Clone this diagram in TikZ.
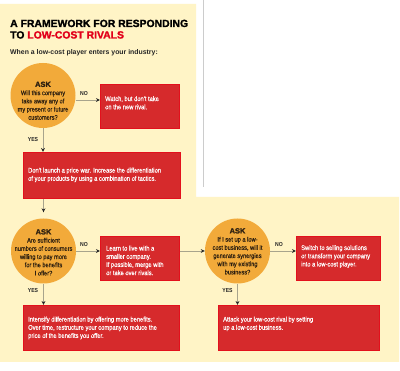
\documentclass[tikz,border=0pt]{standalone}
\usepackage{fontspec}
\setmainfont{Liberation Sans}
\newfontfamily\heavyfont[FakeBold=1.6]{Liberation Sans Bold}
\newfontfamily\condfont[FakeStretch=0.86,FakeBold=0.35]{Liberation Sans}
\newfontfamily\condbold[FakeStretch=0.88]{Liberation Sans Bold}
\newfontfamily\subfont{Liberation Sans Bold}
\usetikzlibrary{arrows.meta,calc}
\definecolor{cream}{HTML}{FFF4C6}
\definecolor{boxred}{HTML}{D62A2C}
\definecolor{boxedge}{HTML}{E3101C}
\definecolor{askorange}{HTML}{F2AA3A}
\definecolor{titlered}{HTML}{E2001A}
\definecolor{linegray}{HTML}{A8A48C}
\definecolor{asktext}{HTML}{2E2010}
\definecolor{sepgray}{HTML}{CCCCCC}
\begin{document}
\begin{tikzpicture}[x=1pt,y=-1pt,
  box/.style={rectangle, draw=boxedge, fill=boxred, line width=0.8pt, inner sep=0pt, anchor=north west},
  btext/.style={font=\condfont\fontsize{6.7}{8.2}\selectfont, text=white, align=left, inner sep=0pt, anchor=north west},
  ask/.style={circle, fill=askorange, minimum size=65pt, inner sep=0pt},
  asklines/.style={font=\condfont\fontsize{6.6}{8.2}\selectfont, text=asktext, align=center, inner sep=0pt, anchor=north},
  lab/.style={font=\condbold\fontsize{5.8}{6}\selectfont, text=black!85, inner sep=0pt},
  titlefont/.style={font=\heavyfont\fontsize{10.4}{12}\selectfont, inner sep=0pt, anchor=base west},
  arr/.style={draw=linegray, line width=0.9pt, -{Stealth[length=4pt,width=3.8pt,color=black!85]}}
]
\useasboundingbox (0,0) rectangle (400,371);
\fill[white] (0,0) rectangle (400,371);
\fill[cream] (0,4) -- (196,4) -- (196,197) -- (399,197) -- (399,362) -- (0,362) -- cycle;
\draw[sepgray, line width=0.8pt] (203,0) -- (203,187);

% title
\node[titlefont] (t1) at (10,27) {A FRAMEWORK FOR RESPONDING};
\node[titlefont] (t2) at (10,38.5) {TO \textcolor{titlered}{LOW-COST RIVALS}};
\node[font=\subfont\fontsize{6.9}{8}\selectfont, inner sep=0pt, anchor=base west, text=black!85] (sub) at (10,55) {When a low-cost player enters your industry:};

% question circles
\node[ask] (q1) at (43,95.5) {};
\node[asklines] (q1t) at (43,81.5) {{\heavyfont\fontsize{7.5}{8.2}\selectfont ASK}\\Will this company\\take away any of\\my present or future\\customers?};
\node[ask] (q2) at (43.5,251) {};
\node[asklines] (q2t) at (43.5,229) {{\heavyfont\fontsize{7.5}{8.2}\selectfont ASK}\\Are sufficient\\numbers of consumers\\willing to pay more\\for the benefits\\I offer?};
\node[ask] (q3) at (237.5,251) {};
\node[asklines] (q3t) at (237.5,228) {{\heavyfont\fontsize{7.5}{8.2}\selectfont ASK}\\If I set up a low-\\cost business, will it\\generate synergies\\with my existing\\business?};

% boxes
\node[box, minimum width=79pt, minimum height=44pt] (b1) at (100,84) {};
\node[btext] (b1t) at (105,96) {Watch, but don't take\\on the new rival.};
\node[box, minimum width=157pt, minimum height=46pt] (b2) at (23,152) {};
\node[btext] (b2t) at (28,167.5) {Don't launch a price war. Increase the differentiation\\of your products by using a combination of tactics.};
\node[box, minimum width=79pt, minimum height=44pt] (b3) at (100,236) {};
\node[btext] (b3t) at (106,245.5) {Learn to live with a\\smaller company.\\If possible, merge with\\or take over rivals.};
\node[box, minimum width=84pt, minimum height=44pt] (b5) at (296,236) {};
\node[btext] (b5t) at (301,245) {Switch to selling solutions\\or transform your company\\into a low-cost player.};
\node[box, minimum width=156pt, minimum height=45pt] (b4) at (23,305) {};
\node[btext] (b4t) at (28,316.5) {Intensify differentiation by offering more benefits.\\Over time, restructure your company to reduce the\\price of the benefits you offer.};
\node[box, minimum width=161pt, minimum height=45pt] (b6) at (218,305) {};
\node[btext] (b6t) at (223,316.5) {Attack your low-cost rival by setting\\up a low-cost business.};

% connectors
\draw[arr] ($(q1.east)+(0,4.5)$) coordinate (n1) -- (n1 -| b1.west);
\draw[arr] (q1.south) -- (q1.south |- b2.north);
\draw[arr, shorten >=6pt] (b2.south -| q2.north) -- (q2.north);
\draw[arr] (q2.east) -- (q2.east -| b3.west);
\draw[arr] (b3.east |- q2.east) -- (q3.west);
\draw[arr] (q3.east) -- (q3.east -| b5.west);
\draw[arr] (q2.south) -- (q2.south |- b4.north);
\draw[arr] (q3.south) -- (q3.south |- b6.north);

% labels
\node[lab] (no1) at (84,94) {NO};
\node[lab] (yes1) at (33,139.5) {YES};
\node[lab] (no2) at (84,245) {NO};
\node[lab] (yes2) at (33,290.5) {YES};
\node[lab] (no3) at (279,245) {NO};
\node[lab] (yes3) at (227.5,290.5) {YES};
\end{tikzpicture}
\end{document}
